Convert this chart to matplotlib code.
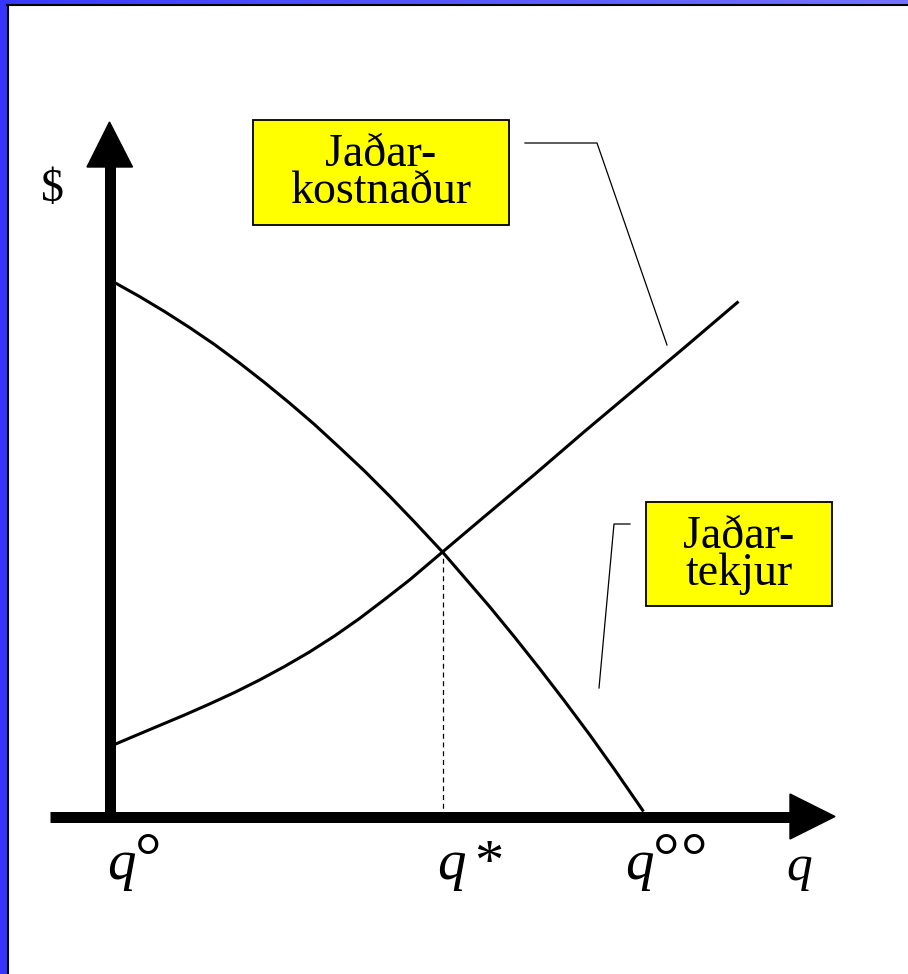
import numpy as np
import matplotlib
matplotlib.use("Agg")
import matplotlib.pyplot as plt
from matplotlib.patches import Rectangle, Polygon
from matplotlib.colors import LinearSegmentedColormap

# ---- data (quantity q, price $) in chart units ----
mc_q = [5, 25, 50, 75, 100, 125, 150, 175, 200, 225, 250, 275, 300, 333,
        375, 425, 475, 525, 575, 629]
mc_v = [72, 80.5, 91, 101.5, 112.5, 124, 136.5, 150, 164.5, 180.5, 198, 217,
        236.5, 264.5, 300, 342, 385, 427, 469, 515]
mr_q = [5, 30, 55, 80, 105, 130, 155, 180, 205, 230, 255, 280, 305, 333,
        355, 380, 405, 430, 455, 480, 505, 534]
mr_v = [534, 520, 505, 489, 472, 453.5, 434, 413.5, 392, 369, 345.5, 320.5,
        294.5, 264.5, 239, 210, 179.5, 148, 115.5, 82, 47, 5]
q_star = 333
p_star = 264.5
tick_base = ["q", "q", "q"]
tick_sup = ["°", "*", "°°"]
tick_pos = [-2, 328, 516]
label_mc = ["Jaðar-", "kostnaður"]
label_mr = ["Jaðar-", "tekjur"]

W, H = 908, 974
OX, OY = 109.5, 816.5

def P(px, py):
    return (px - OX, OY - py)

plt.rcParams['font.family'] = ['Liberation Serif', 'DejaVu Serif']
fig = plt.figure(figsize=(W / 100, H / 100), dpi=100)
fig.patch.set_facecolor('white')
ax = fig.add_axes([0, 0, 1, 1])
ax.axis('off')

# ---- frame (blue strips + black inner line) ----
grad = np.linspace(0, 1, 256).reshape(1, -1)
cm = LinearSegmentedColormap.from_list('b', ['#3a3aff', '#7474ff'])
x0, y0 = P(0, 0)
x1, y1 = P(W, 4.5)
ax.imshow(grad, cmap=cm, extent=[x0, x1, y1, y0], aspect='auto', zorder=1)
ax.add_patch(Rectangle(P(0, H), 7, H, facecolor='#3535ff', edgecolor='none', zorder=1))
ax.plot([P(7.5, 0)[0], P(7.5, H)[0]], [P(7.5, 4.5)[1], P(7.5, H)[1]], color='black', lw=1.5, zorder=2)
ax.plot([P(7, 0)[0], P(W, 0)[0]], [P(0, 5)[1], P(0, 5)[1]], color='black', lw=1.5, zorder=2)
ax.set_xlim(-OX, W - OX)
ax.set_ylim(OY - H, OY)

# ---- axes with arrows ----
axis_lw = 11 * 0.72
ax.plot([0, 0], [0, P(0, 166)[1]], color='black', lw=axis_lw, solid_capstyle='butt', zorder=5)
ax.add_patch(Polygon([P(109.5, 122), P(87, 167), P(132.5, 167)], closed=True, color='black', zorder=5))
ax.plot([P(50, 0)[0], P(791, 0)[0]], [0, 0], color='black', lw=axis_lw, solid_capstyle='butt', zorder=5)
ax.add_patch(Polygon([P(835, OY), P(790, 794), P(790, 839)], closed=True, color='black', zorder=5))

# ---- curves ----
ax.plot(mc_q, mc_v, color='black', lw=2.2, zorder=4, solid_capstyle='butt', solid_joinstyle='round')
ax.plot(mr_q, mr_v, color='black', lw=2.2, zorder=4, solid_capstyle='butt', solid_joinstyle='round')
ax.plot([q_star, q_star], [0, p_star], color='black', lw=0.9, ls=(0, (4, 3)), zorder=3)

# ---- label boxes ----
def box(xa, ya, xb, yb, lines, cx, cy):
    (bx, by) = P(xa, yb)
    ax.add_patch(Rectangle((bx, by), xb - xa, yb - ya, facecolor='#ffff00',
                           edgecolor='black', lw=1.3, zorder=6))
    ax.text(*P(cx, cy), "\n".join(lines), ha='center', va='center',
            multialignment='center', linespacing=0.82, fontsize=33, zorder=7)

box(253, 120, 509, 225, label_mc, 381, 173)
box(646, 502, 832, 606, label_mr, 739, 555.5)

# leader lines
lx, ly = zip(P(525, 143), P(597, 143), P(667, 345))
ax.plot(lx, ly, color='black', lw=0.9, zorder=6)
lx, ly = zip(P(630, 524), P(614, 524), P(599, 688))
ax.plot(lx, ly, color='black', lw=0.9, zorder=6)

# ---- axis labels ----
ax.text(*P(52, 190), "$", ha='center', va='center', fontsize=33)
base_y = P(0, 879)[1]
for b, s, xp in zip(tick_base, tick_sup, tick_pos):
    ax.text(xp, base_y, b, ha='left', va='baseline', fontsize=41, style='italic')
    if s == "*":
        ax.text(xp + 37, base_y, s, ha='left', va='baseline', fontsize=42)
    else:
        for k, ch in enumerate(s):
            ax.text(xp + 41 + 28 * k, base_y, ch, ha='center', va='baseline',
                    fontsize=48)
ax.text(*P(786, 880), "q", ha='left', va='baseline', fontsize=37, style='italic')

fig.savefig('out.png', dpi=100)
